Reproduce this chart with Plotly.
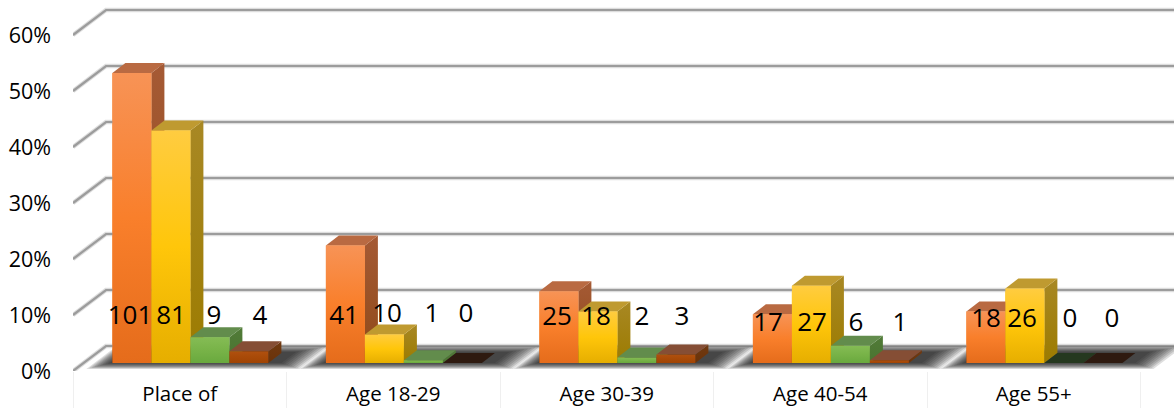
import plotly.graph_objects as go

# ---- data ----
categories = ["Place of", "Age 18-29", "Age 30-39", "Age 40-54", "Age 55+"]
series_a = [51.8, 21.0, 12.8, 8.7, 9.2]
series_b = [41.5, 5.1, 9.2, 13.8, 13.3]
series_c = [4.6, 0.5, 1.0, 3.1, 0.0]
series_d = [2.1, 0.0, 1.5, 0.5, 0.0]
counts_a = [101, 41, 25, 17, 18]
counts_b = [81, 10, 18, 27, 26]
counts_c = [9, 1, 2, 6, 0]
counts_d = [4, 0, 3, 1, 0]
percent_ticks = [0, 10, 20, 30, 40, 50, 60]
percent_labels = ["0%", "10%", "20%", "30%", "40%", "50%", "60%"]

# ---- layout constants ----
W, H = 1174, 408
ML, MB = 73, 37
PX_X = 213.5      # pixels per category band
PX_Y = 5.6        # pixels per percentage point
XMAX = (W - ML) / PX_X
YMAX = (H - MB) / PX_Y
BAR_W = 39 / PX_X
BAR_START = 39.4 / PX_X
BAR_BASE = 8 / PX_Y
DX, DY = 13 / PX_X, 10 / PX_Y       # depth of a bar
WX, WY = 33 / PX_X, 25 / PX_Y       # depth of the floor

styles = [
    dict(mid="#F58228", front=["#E56C1B", "#F97F2B", "#F79356"],
         side=["#8F4A18", "#A55A35"], top="#B96A42", zero="#3A2010"),
    dict(mid="#FFC000", front=["#E6AE00", "#FFC60A", "#FFCC40"],
         side=["#9C7B00", "#A88824"], top="#BF9A30", zero="#3A2C08"),
    dict(mid="#70AD47", front=["#69A93E", "#78B348", "#85BC55"],
         side=["#4A7430", "#517B38"], top="#628C4C", zero="#25381F"),
    dict(mid="#A5480A", front=["#A04404", "#A84A08", "#B0500F"],
         side=["#6B3208", "#703A12"], top="#854E35", zero="#2E1A10"),
]
all_values = [series_a, series_b, series_c, series_d]
all_counts = [counts_a, counts_b, counts_c, counts_d]

# label centres, in pixels of the page, by group then series
label_px = [
    [130, 171, 214, 260],
    [344, 387, 432, 466],
    [557, 596, 642, 682],
    [768, 812, 856, 900],
    [986, 1022, 1070, 1112],
]
label_py = [
    [317, 317, 317, 317],
    [317, 315, 315, 315],
    [318, 318, 318, 318],
    [324, 324, 324, 324],
    [320, 320, 320, 320],
]

fig = go.Figure()


def poly(xs, ys, color=None, gradient=None, start=None, stop=None):
    kw = dict(
        x=xs + xs[:1], y=ys + ys[:1], mode="lines", fill="toself",
        line=dict(width=0), hoverinfo="skip", showlegend=False,
    )
    if gradient:
        n = len(gradient) - 1
        kw["fillgradient"] = dict(
            type="vertical", start=start, stop=stop,
            colorscale=[[i / n, c] for i, c in enumerate(gradient)],
        )
    else:
        kw["fillcolor"] = color
    fig.add_trace(go.Scatter(**kw))


# Solid bars (base layer, refined by the gradient faces on top)
for s, values in enumerate(all_values):
    fig.add_trace(go.Bar(
        x=[g + BAR_START + (s + 0.5) * BAR_W for g in range(len(categories))],
        y=values, base=BAR_BASE, width=BAR_W,
        marker=dict(color=styles[s]["mid"], line=dict(width=0)),
        hoverinfo="skip", showlegend=False,
    ))

# Walls: slanted + horizontal gridlines
for t in percent_ticks:
    xs = [0, WX, XMAX]
    ys = [t, t + WY, t + WY]
    fig.add_trace(go.Scatter(x=xs, y=ys, mode="lines", hoverinfo="skip", showlegend=False,
                             line=dict(color="rgba(170,170,170,0.4)", width=4.5)))
    fig.add_trace(go.Scatter(x=xs, y=ys, mode="lines", hoverinfo="skip", showlegend=False,
                             line=dict(color="#9C9C9C", width=2.2)))

# Soft floor shadows around each group
SHADOW_LAYERS = 10
for g in range(len(categories)):
    left = g + BAR_START
    right = left + 4 * BAR_W
    for k in range(SHADOW_LAYERS):
        f = 1 - k / (SHADOW_LAYERS - 1)
        e_l = (2 + 24 * f) / PX_X
        e_r = (0 + 18 * f) / PX_X
        y0 = BAR_BASE - (0 + 6 * f) / PX_Y
        y1 = BAR_BASE + (11 + 6 * f) / PX_Y
        sl = (y1 - y0) * (WX / WY)
        poly([left - e_l, right + DX + e_r, right + DX + e_r + sl, left - e_l + sl],
             [y0, y0, y1, y1], color="rgba(20,20,20,0.14)")

# 3D faces, drawn left to right so later bars cover earlier sides
for g in range(len(categories)):
    for s, values in enumerate(all_values):
        st = styles[s]
        v = values[g]
        x0 = g + BAR_START + s * BAR_W
        x1 = x0 + BAR_W
        b = BAR_BASE
        t = b + v
        if v == 0:
            poly([x0, x1, x1 + DX, x0 + DX], [b, b, b + DY, b + DY], color=st["zero"])
            continue
        poly([x1, x1 + DX, x1 + DX, x1], [b, b + DY, t + DY, t],
             gradient=st["side"], start=b, stop=t + DY)
        poly([x0, x1, x1 + DX, x0 + DX], [t, t, t + DY, t + DY], color=st["top"])
        poly([x0, x1, x1, x0], [b, b, t, t],
             gradient=st["front"], start=b, stop=t)

# Data labels
lx, ly, lt = [], [], []
for g in range(len(categories)):
    for s in range(len(all_values)):
        lx.append((label_px[g][s] - ML) / PX_X)
        ly.append((H - MB - label_py[g][s]) / PX_Y)
        lt.append(str(all_counts[s][g]))
fig.add_trace(go.Scatter(
    x=lx, y=ly, text=lt, mode="text", textposition="middle center",
    textfont=dict(family="Open Sans", size=26, color="#000000"),
    hoverinfo="skip", showlegend=False,
))

fig.update_layout(
    width=W, height=H, autosize=False, barmode="overlay",
    margin=dict(l=ML, r=0, t=0, b=MB, pad=0),
    paper_bgcolor="#FFFFFF", plot_bgcolor="#FFFFFF",
    font=dict(family="Open Sans", color="#000000"),
    showlegend=False,
)
fig.update_xaxes(
    range=[0, XMAX], showgrid=False, zeroline=False, showline=False,
    tickmode="array", tickvals=[g + 0.5 for g in range(len(categories))],
    ticktext=categories, ticks="", ticklabelstandoff=8,
    tickfont=dict(family="Open Sans", size=20.5, color="#000000"),
    minor=dict(tickmode="array", tickvals=list(range(len(categories) + 1)),
               ticks="outside", ticklen=MB, tickcolor="#EFEFEF", tickwidth=1, showgrid=False),
)
fig.update_yaxes(
    range=[0, YMAX], showgrid=False, zeroline=False, showline=False,
    tickmode="array", tickvals=percent_ticks, ticktext=percent_labels,
    ticks="", ticklabelstandoff=21,
    tickfont=dict(family="Open Sans", size=21.5, color="#000000"),
)

fig.write_html(
    "out.html", config=dict(displayModeBar=False),
    post_script="document.body.style.margin='0';document.body.style.overflow='hidden';",
)
